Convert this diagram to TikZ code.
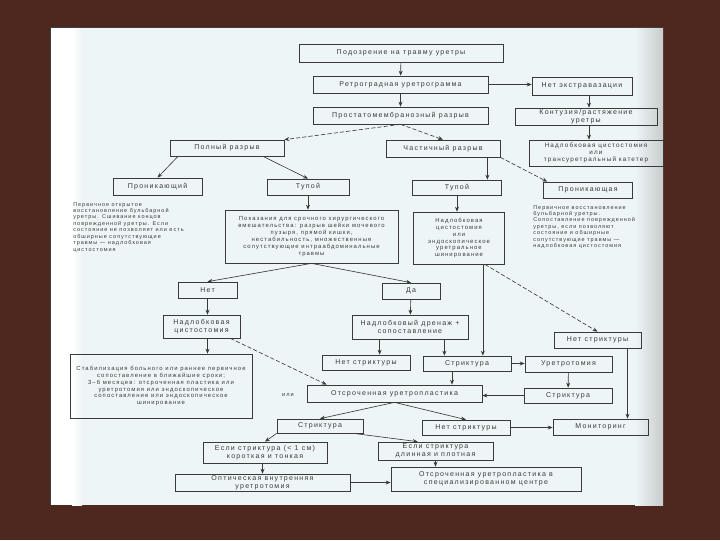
\documentclass[tikz,border=0pt]{standalone}
\usepackage{fontspec}
\setmainfont[LetterSpace=18]{Liberation Sans}
\usetikzlibrary{arrows.meta}
\definecolor{bgbrown}{HTML}{4E281E}
\definecolor{paper}{HTML}{EEF5F6}
\definecolor{ink}{HTML}{3A3A3A}
\begin{document}
\begin{tikzpicture}[x=0.025cm, y=-0.025cm, >={Stealth[length=3.5pt,width=2.8pt]},
  box/.style={draw=ink, line width=0.5pt, inner sep=0pt, align=center, text=ink, font=\fontsize{5}{5.6}\selectfont},
  block/.style={box, font=\fontsize{4.2}{4.9}\selectfont},
  note/.style={inner sep=0pt, align=left, text=ink, font=\fontsize{3.9}{4.6}\selectfont},
  link/.style={draw=ink, line width=0.45pt, ->},
  dashlink/.style={link, dash pattern=on 3pt off 1.5pt}]
\useasboundingbox (0,0) rectangle (720,540);
\fill[bgbrown] (0,0) rectangle (720,540);
\fill[paper] (50,27) rectangle (663,505);
\fill[white] (50,27) rectangle (72,505);
\shade[left color=white, right color=paper] (72,27) rectangle (82,505);
\shade[left color=paper, right color=gray!35!paper] (635,27) rectangle (663,505);
\draw[black!75, line width=0.4pt] (50,505) -- (50,27) -- (663,27);

\node[box, minimum width=5.1cm, minimum height=0.45cm] (podozr) at (401,53) {Подозрение на травму уретры};
\node[box, minimum width=4.375cm, minimum height=0.425cm] (retro) at (400.5,84.5) {Ретроградная уретрограмма};
\node[box, minimum width=2.5cm, minimum height=0.45cm] (netextra) at (582,86) {Нет экстравазации};
\node[box, minimum width=4.375cm, minimum height=0.425cm] (prostat) at (400.5,115.5) {Простатомембранозный разрыв};
\node[box, minimum width=3.55cm, minimum height=0.425cm] (kontuz) at (586,116.5) {Контузия/растяжение\\уретры};
\node[box, minimum width=3.35cm, minimum height=0.65cm, font=\fontsize{4.5}{5.2}\selectfont] (nadlob) at (596,153) {Надлобковая цистостомия\\или\\трансуретральный катетер};
\node[box, minimum width=2.85cm, minimum height=0.4cm] (polny) at (227,148) {Полный разрыв};
\node[box, minimum width=2.85cm, minimum height=0.425cm] (chast) at (443,148.5) {Частичный разрыв};
\node[box, minimum width=2.225cm, minimum height=0.425cm] (pronikL) at (157.5,186.5) {Проникающий};
\node[box, minimum width=2.05cm, minimum height=0.4cm] (tupL) at (308,187) {Тупой};
\node[box, minimum width=2.225cm, minimum height=0.375cm] (tupR) at (457,187.5) {Тупой};
\node[box, minimum width=2.225cm, minimum height=0.4cm] (pronikR) at (588,190) {Проникающая};
\node[note, anchor=north west] (noteL) at (73,202) {Первичное открытое\\восстановление бульбарной\\уретры. Сшивание концов\\поврежденной уретры. Если\\состояние не позволяет или есть\\обширные сопутствующие\\травмы — надлобковая\\цистостомия};
\node[block, minimum width=4.325cm, minimum height=1.325cm] (pokaz) at (311.5,236.5) {Показания для срочного хирургического\\вмешательства: разрыв шейки мочевого\\пузыря, прямой кишки,\\нестабильность, множественные\\сопутствующие интраабдоминальные\\травмы};
\node[block, minimum width=2.275cm, minimum height=1.3cm] (nadlobEnd) at (459,238) {Надлобковая\\цистостомия\\или\\эндоскопическое\\уретральное\\шинирование};
\node[note, anchor=north west] (noteR) at (533,205) {Первичное восстановление\\бульбарной уретры.\\Сопоставление поврежденной\\уретры, если позволяют\\состояние и обширные\\сопутствующие травмы —\\надлобковая цистостомия};
\node[box, minimum width=1.475cm, minimum height=0.4cm] (net) at (207.5,290) {Нет};
\node[box, minimum width=1.45cm, minimum height=0.4cm] (da) at (411,291) {Да};
\node[box, minimum width=1.925cm, minimum height=0.575cm] (cisto) at (201.5,326.5) {Надлобковая\\цистостомия};
\node[box, minimum width=2.9cm, minimum height=0.6cm] (drenazh) at (410,327) {Надлобковый дренаж +\\сопоставление};
\node[box, minimum width=2.175cm, minimum height=0.4cm] (netstrR) at (597.5,340) {Нет стриктуры};
\node[block, minimum width=4.55cm, minimum height=1.6cm] (ozhid) at (161,386) {Стабилизация больного или раннее первичное\\сопоставление в ближайшие сроки;\\3–6 месяцев: отсроченная пластика или\\уретротомия или эндоскопическое\\сопоставление или эндоскопическое\\шинирование};
\node[box, minimum width=2.2cm, minimum height=0.375cm] (netstrM) at (366,362.5) {Нет стриктуры};
\node[box, minimum width=2.2cm, minimum height=0.375cm] (striktM) at (467,363.5) {Стриктура};
\node[box, minimum width=2.175cm, minimum height=0.4cm] (uretrotom) at (568.5,364) {Уретротомия};
\node[text=ink, font=\fontsize{4}{5}\selectfont, inner sep=0pt] (ili) at (288,395) {или};
\node[box, minimum width=4.375cm, minimum height=0.425cm] (otsroch) at (394.5,393.5) {Отсроченная уретропластика};
\node[box, minimum width=2.2cm, minimum height=0.375cm] (striktR) at (568,395.5) {Стриктура};
\node[box, minimum width=2.15cm, minimum height=0.35cm] (striktL) at (320,426) {Стриктура};
\node[box, minimum width=2.2cm, minimum height=0.375cm] (netstrL) at (466,427.5) {Нет стриктуры};
\node[box, minimum width=2.375cm, minimum height=0.4cm] (monitor) at (600.5,427) {Мониторинг};
\node[box, minimum width=3.1cm, minimum height=0.525cm] (esli1) at (265,452.5) {Если стриктура (< 1 см)\\короткая и тонкая};
\node[box, minimum width=2.875cm, minimum height=0.45cm] (esli2) at (435.5,451) {Если стриктура\\длинная и плотная};
\node[box, minimum width=4.375cm, minimum height=0.425cm] (optich) at (262.5,482.5) {Оптическая внутренняя\\уретротомия};
\node[box, minimum width=4.75cm, minimum height=0.6cm] (otsrochC) at (486,479) {Отсроченная уретропластика в\\специализированном центре};

\draw[link] (podozr) -- (retro);
\draw[link] (retro.east) -- (retro.east -| netextra.west);
\draw[link] (retro) -- (prostat);
\draw[link] ([xshift=0.175cm]netextra.south) -- ([xshift=0.175cm]netextra.south |- kontuz.north);
\draw[link] ([xshift=0.175cm]netextra.south |- kontuz.south) -- ([xshift=0.175cm]netextra.south |- nadlob.north);
\draw[dashlink] (prostat.south) -- (polny.north east);
\draw[dashlink] (prostat.south) -- (chast.north);
\draw[link] ([xshift=-1.225cm]polny.south) -- (pronikL.north);
\draw[link] ([xshift=0.9cm]polny.south) -- (tupL.north);
\draw[link] ([xshift=-0.325cm]chast.south east) -- ([xshift=-0.325cm]chast.south east |- tupR.north);
\draw[dashlink] (chast.south east) -- ([xshift=0.1cm]pronikR.north west);
\draw[link] (tupL.south) -- (tupL.south |- pokaz.north);
\draw[link] (tupR.south) -- (tupR.south |- nadlobEnd.north);
\draw[link] (pokaz.south) -- (net.north);
\draw[link] (pokaz.south) -- (da.north);
\draw[link] (net.south) -- (net.south |- cisto.north);
\draw[link] (net.south |- cisto.south) -- (net.south |- ozhid.north);
\draw[dashlink] ([xshift=-0.25cm]cisto.south east) -- ([xshift=0.5cm]otsroch.north west);
\draw[link] (da) -- (drenazh);
\draw[link] ([xshift=0.7cm]drenazh.south west) -- ([xshift=0.7cm]drenazh.south west |- netstrM.north);
\draw[link] ([xshift=-0.6cm]drenazh.south east) -- ([xshift=-0.6cm]drenazh.south east |- striktM.north);
\draw[link] ([xshift=-0.55cm]nadlobEnd.south east) -- ([xshift=-0.55cm]nadlobEnd.south east |- striktM.north);
\draw[dashlink] ([xshift=-0.5cm]nadlobEnd.south east) -- (netstrR.north);
\draw[link] (striktM.east) -- (striktM.east -| uretrotom.west);
\draw[link] (uretrotom) -- (striktR);
\draw[link] (striktR.west) -- (striktR.west -| otsroch.east);
\draw[link] ([xshift=-0.375cm]striktM.south) -- ([xshift=-0.375cm]striktM.south |- otsroch.north);
\draw[link] ([xshift=0.75cm]netstrR.south) -- ([xshift=0.75cm]netstrR.south |- monitor.north);
\draw[link] (otsroch.south) -- (striktL.north);
\draw[link] (otsroch.south) -- (netstrL.north);
\draw[link] (netstrL.east) -- (netstrL.east -| monitor.west);
\draw[link] (striktL.south west) -- (esli1.north);
\draw[link] ([xshift=-0.25cm]striktL.south east) -- ([xshift=1cm]esli2.north west);
\draw[link] (optich.north |- esli1.south) -- (optich.north);
\draw[link] (esli2.south) -- (esli2.south |- otsrochC.north);
\draw[link] (optich.east) -- (optich.east -| otsrochC.west);
\end{tikzpicture}
\end{document}
